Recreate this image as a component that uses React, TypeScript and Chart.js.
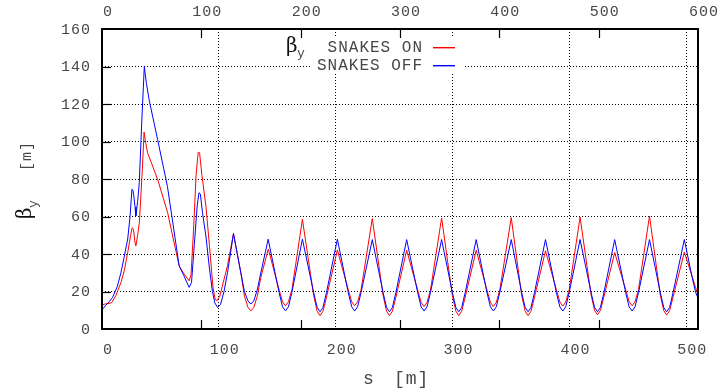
import React, { useEffect, useRef } from 'react';
import { Chart, registerables } from 'chart.js';

Chart.register(...registerables);

// ---- data ----
const sTicksBottom = [0, 100, 200, 300, 400, 500];
const sTicksTop = [0, 100, 200, 300, 400, 500, 600];
const betaTicks = [0, 20, 40, 60, 80, 100, 120, 140, 160];
const legendLabels = ['SNAKES ON', 'SNAKES OFF'];
const xTitle = ['s', '[m]'];
const yTitle = ['β', 'y', '[m]'];

// [s (m), beta_y (m)]
const snakesOn: [number, number][] = [
  [0, 12.8], [3, 13.4], [6, 13.6], [8.5, 14.2], [12, 18], [16.2, 24.8], [19, 31], [22, 40.8],
  [24.5, 50], [25.8, 54], [27, 53], [28, 47], [29, 44.3], [30.5, 50], [32, 57], [34.5, 85],
  [36, 105], [37.5, 99], [39, 94], [47.6, 79.8], [56.2, 62], [61, 48], [66, 33.7], [70, 29.5],
  [74.6, 25.7], [76.2, 29], [78.5, 55], [80.5, 82], [82.3, 94.3], [83.5, 94], [85.5, 82],
  [88.9, 65.6], [92, 44], [95, 22], [96.8, 16], [98.3, 15], [100.8, 17.5], [103.8, 25],
  [107.4, 33.7], [112.5, 50.9], [118.8, 30], [121.9, 17.5], [124.9, 11.5], [127.4, 9.7],
  [129.9, 11.5], [132.9, 17.5], [135.9, 27.5], [142.3, 42.6],
  [151.5, 21], [154.5, 14.5], [157.0, 12.4], [159.5, 14.5], [162.5, 21], [171.5, 58.5],
  [181.1, 18], [184.1, 9.5], [186.6, 7.1], [189.1, 9.5], [192.1, 17], [201.4, 42.2],
  [210.7, 21], [213.7, 14.5], [216.2, 12.4], [218.7, 14.5], [221.7, 21], [231.3, 58.9],
  [240.5, 18], [243.5, 9.5], [246.0, 7.1], [248.5, 9.5], [251.5, 17], [260.7, 42],
  [270.1, 20.8], [273.1, 14.2], [275.6, 12], [278.1, 14.2], [281.1, 20.8], [290.6, 59.2],
  [299.8, 18], [302.8, 9.5], [305.3, 7.1], [307.8, 9.5], [310.8, 17], [320.2, 42],
  [329.4, 20.8], [332.4, 14.2], [334.9, 12], [337.4, 14.2], [340.4, 20.8], [350.2, 59.4],
  [359.1, 18], [362.1, 9.5], [364.6, 7.1], [367.1, 9.5], [370.1, 17], [379.5, 41.7],
  [388.8, 21], [391.8, 14.4], [394.3, 12.2], [396.8, 14.4], [399.8, 21], [409.1, 59.7],
  [418.5, 18.3], [421.5, 9.9], [424.0, 7.6], [426.5, 9.9], [429.5, 17.2], [438.7, 40.8],
  [448.1, 21], [451.1, 14.5], [453.6, 12.4], [456.1, 14.5], [459.1, 21], [468.5, 60.3],
  [477.7, 18.2], [480.7, 9.8], [483.2, 7.4], [485.7, 9.8], [488.7, 17.1], [498.3, 41],
  [505, 28], [508, 22], [510, 18.5],
];

const snakesOff: [number, number][] = [
  [0, 10.2], [3, 12.5], [6, 14.5], [9, 16.8], [13, 22.5], [16.2, 30], [19, 38.5], [22, 48],
  [24, 60], [25.6, 74.5], [26.5, 74], [27.2, 71], [28.3, 65], [29, 60.3], [30.5, 68], [31.9, 78],
  [34, 110], [36.2, 140], [38, 131], [40.4, 122], [47.6, 101], [56, 76], [61, 55], [66, 33.7],
  [70, 28.5], [74.6, 22.2], [76.6, 24.8], [79, 45], [81.5, 66], [83, 72.7], [84.2, 72], [86, 62],
  [88.9, 49.6], [92, 32], [94.5, 20], [96.5, 14], [98.9, 11.5], [101.4, 13], [104.4, 20],
  [107.4, 30], [112.5, 50.9], [118.8, 30], [121.9, 20], [124.9, 15], [127.4, 13.3], [129.9, 15],
  [132.9, 21], [135.9, 30], [142.2, 47.9],
  [151.5, 19.5], [154.5, 11.8], [157.0, 9.7], [159.5, 11.8], [162.5, 19.5], [171.5, 47.9],
  [181.1, 19.5], [184.1, 11.5], [186.6, 9.2], [189.1, 11.5], [192.1, 19.5], [201.4, 47.9],
  [210.7, 19.5], [213.7, 11.8], [216.2, 9.6], [218.7, 11.8], [221.7, 19.5], [231.3, 47.7],
  [240.5, 19.5], [243.5, 11.5], [246.0, 9.2], [248.5, 11.5], [251.5, 19.5], [260.7, 47.7],
  [270.1, 19.5], [273.1, 11.8], [275.6, 9.6], [278.1, 11.8], [281.1, 19.5], [290.6, 47.7],
  [299.8, 19.5], [302.8, 11.5], [305.3, 9.2], [307.8, 11.5], [310.8, 19.5], [320.2, 47.7],
  [329.4, 19.5], [332.4, 11.8], [334.9, 9.6], [337.4, 11.8], [340.4, 19.5], [350.2, 47.7],
  [359.1, 19.5], [362.1, 11.5], [364.6, 9.2], [367.1, 11.5], [370.1, 19.5], [379.5, 47.7],
  [388.8, 19.5], [391.8, 11.8], [394.3, 9.6], [396.8, 11.8], [399.8, 19.5], [409.1, 47.7],
  [418.5, 19.5], [421.5, 11.5], [424.0, 9.2], [426.5, 11.5], [429.5, 19.5], [438.7, 47.7],
  [448.1, 19.5], [451.1, 11.8], [453.6, 9.6], [456.1, 11.8], [459.1, 19.5], [468.5, 47.7],
  [477.7, 19.5], [480.7, 11.5], [483.2, 9.2], [485.7, 11.5], [488.7, 19.5], [498.3, 47.7],
  [505, 27.5], [508, 19.5], [510, 16.5],
];

// ---- styles ----
const MONO = "'Liberation Mono', 'DejaVu Sans Mono', monospace";
const TEXT_COLOR = '#474747';
const RED = '#ff0000';
const BLUE = '#0000ff';

function spacing(ctx: any, px: number) {
  ctx.letterSpacing = px + 'px';
}

function seg(ctx: CanvasRenderingContext2D, x1: number, y1: number, x2: number, y2: number) {
  ctx.beginPath();
  ctx.moveTo(x1, y1);
  ctx.lineTo(x2, y2);
  ctx.stroke();
}

const gnuplotPlugin = {
  id: 'gnuplotLook',
  beforeLayout(chart: any) {
    spacing(chart.ctx, 1);
  },
  beforeDraw(chart: any) {
    spacing(chart.ctx, 1);
  },
  beforeDatasetsDraw(chart: any) {
    const ctx = chart.ctx as CanvasRenderingContext2D;
    ctx.save();
    ctx.fillStyle = '#ffffff';
    ctx.fillRect(311, 38, 152, 36);
    ctx.restore();
  },
  afterDraw(chart: any) {
    const ctx = chart.ctx as CanvasRenderingContext2D;
    const a = chart.chartArea;
    const x2 = chart.scales.x2;
    const y = chart.scales.y;
    ctx.save();
    ctx.setLineDash([]);
    ctx.strokeStyle = '#000';

    // inward tics (x2 mirrored on bottom, y on left)
    ctx.lineWidth = 1.2;
    for (const v of sTicksTop) {
      const px = Math.round(x2.getPixelForValue(v)) + 0.5;
      if (px <= a.left + 2 || px >= a.right - 2) continue;
      seg(ctx, px, a.top, px, a.top + 9);
      seg(ctx, px, a.bottom, px, a.bottom - 9);
    }
    for (const v of betaTicks) {
      const py = Math.round(y.getPixelForValue(v)) + 0.5;
      if (py <= a.top + 2 || py >= a.bottom - 2) continue;
      seg(ctx, a.left, py, a.left + 9, py);
    }

    // frame
    ctx.lineWidth = 2;
    ctx.strokeRect(a.left, a.top, a.right - a.left, a.bottom - a.top);

    // legend
    spacing(ctx, 1);
    ctx.fillStyle = TEXT_COLOR;
    ctx.font = `16px ${MONO}`;
    ctx.textAlign = 'right';
    ctx.textBaseline = 'alphabetic';
    ctx.fillText(legendLabels[0], 423, 52);
    ctx.fillText(legendLabels[1], 423, 70);
    ctx.fillStyle = RED;
    ctx.fillRect(433, 47, 22, 1.4);
    ctx.fillStyle = BLUE;
    ctx.fillRect(433, 65, 22, 1.4);

    spacing(ctx, 0);
    ctx.textAlign = 'left';
    ctx.fillStyle = '#111';
    ctx.font = "20px 'DejaVu Serif', serif";
    ctx.fillText(yTitle[0], 286, 52);
    ctx.fillStyle = TEXT_COLOR;
    ctx.font = `13px ${MONO}`;
    ctx.fillText(yTitle[1], 297, 57);

    // x title
    spacing(ctx, 1);
    ctx.font = `18px ${MONO}`;
    ctx.fillStyle = TEXT_COLOR;
    ctx.fillText(xTitle[0], 363, 384);
    ctx.fillText(xTitle[1], 394, 384);

    // y title (rotated)
    ctx.save();
    ctx.translate(31, 219);
    ctx.rotate(-Math.PI / 2);
    spacing(ctx, 0);
    ctx.fillStyle = '#111';
    ctx.font = "20px 'DejaVu Serif', serif";
    ctx.fillText(yTitle[0], 0, 0);
    ctx.fillStyle = TEXT_COLOR;
    ctx.font = `13px ${MONO}`;
    ctx.fillText(yTitle[1], 11, 6);
    spacing(ctx, 1);
    ctx.font = `15px ${MONO}`;
    ctx.fillText(yTitle[2], 48, 0);
    ctx.restore();

    ctx.restore();
  },
};

const tickFont = { family: MONO, size: 15 };

export default function App() {
  const ref = useRef<HTMLCanvasElement>(null);

  useEffect(() => {
    document.body.style.margin = '0';
    const canvas = ref.current;
    if (!canvas) return;
    const chart = new Chart(canvas, {
      type: 'line',
      data: {
        datasets: [
          {
            label: legendLabels[1],
            data: snakesOff.map(([s, b]) => ({ x: s, y: b })),
            borderColor: BLUE,
            backgroundColor: BLUE,
            borderWidth: 1,
            pointRadius: 0,
            tension: 0,
            fill: false,
            order: 0,
            xAxisID: 'x',
            yAxisID: 'y',
          },
          {
            label: legendLabels[0],
            data: snakesOn.map(([s, b]) => ({ x: s, y: b })),
            borderColor: RED,
            backgroundColor: RED,
            borderWidth: 1,
            pointRadius: 0,
            tension: 0,
            fill: false,
            order: 1,
            xAxisID: 'x',
            yAxisID: 'y',
          },
        ],
      },
      options: {
        responsive: false,
        animation: false,
        devicePixelRatio: 1,
        layout: { padding: { left: 0, right: 25, top: 0, bottom: 0 } },
        plugins: { legend: { display: false }, tooltip: { enabled: false } },
        scales: {
          x: {
            type: 'linear',
            position: 'bottom',
            min: 0,
            max: 510,
            afterBuildTicks: (s: any) => {
              s.ticks = sTicksBottom.map((v) => ({ value: v }));
            },
            afterFit: (s: any) => {
              s.height = 61;
            },
            ticks: {
              font: tickFont,
              color: TEXT_COLOR,
              padding: 12,
              labelOffset: 6,
              maxRotation: 0,
              autoSkip: false,
              callback: (v: any) => String(v),
            },
            grid: { color: '#000', lineWidth: 1, drawTicks: false },
            border: { display: false, dash: [1, 2] },
          },
          x2: {
            type: 'linear',
            position: 'top',
            min: 0,
            max: 600,
            afterBuildTicks: (s: any) => {
              s.ticks = sTicksTop.map((v) => ({ value: v }));
            },
            afterFit: (s: any) => {
              s.height = 29;
            },
            ticks: {
              font: tickFont,
              color: TEXT_COLOR,
              padding: 8,
              labelOffset: 6,
              maxRotation: 0,
              autoSkip: false,
              callback: (v: any) => String(v),
            },
            grid: { display: false, drawTicks: false },
            border: { display: false },
          },
          y: {
            type: 'linear',
            min: 0,
            max: 160,
            afterBuildTicks: (s: any) => {
              s.ticks = betaTicks.map((v) => ({ value: v }));
            },
            afterFit: (s: any) => {
              s.width = 102;
            },
            ticks: {
              font: tickFont,
              color: TEXT_COLOR,
              padding: 11,
              labelOffset: 1,
              autoSkip: false,
              callback: (v: any) => String(v),
            },
            grid: { color: '#000', lineWidth: 1, drawTicks: false },
            border: { display: false, dash: [1, 2] },
          },
        },
      },
      plugins: [gnuplotPlugin],
    } as any);
    return () => chart.destroy();
  }, []);

  return (
    <canvas
      ref={ref}
      width={723}
      height={390}
      style={{ display: 'block', width: '723px', height: '390px' }}
    />
  );
}
